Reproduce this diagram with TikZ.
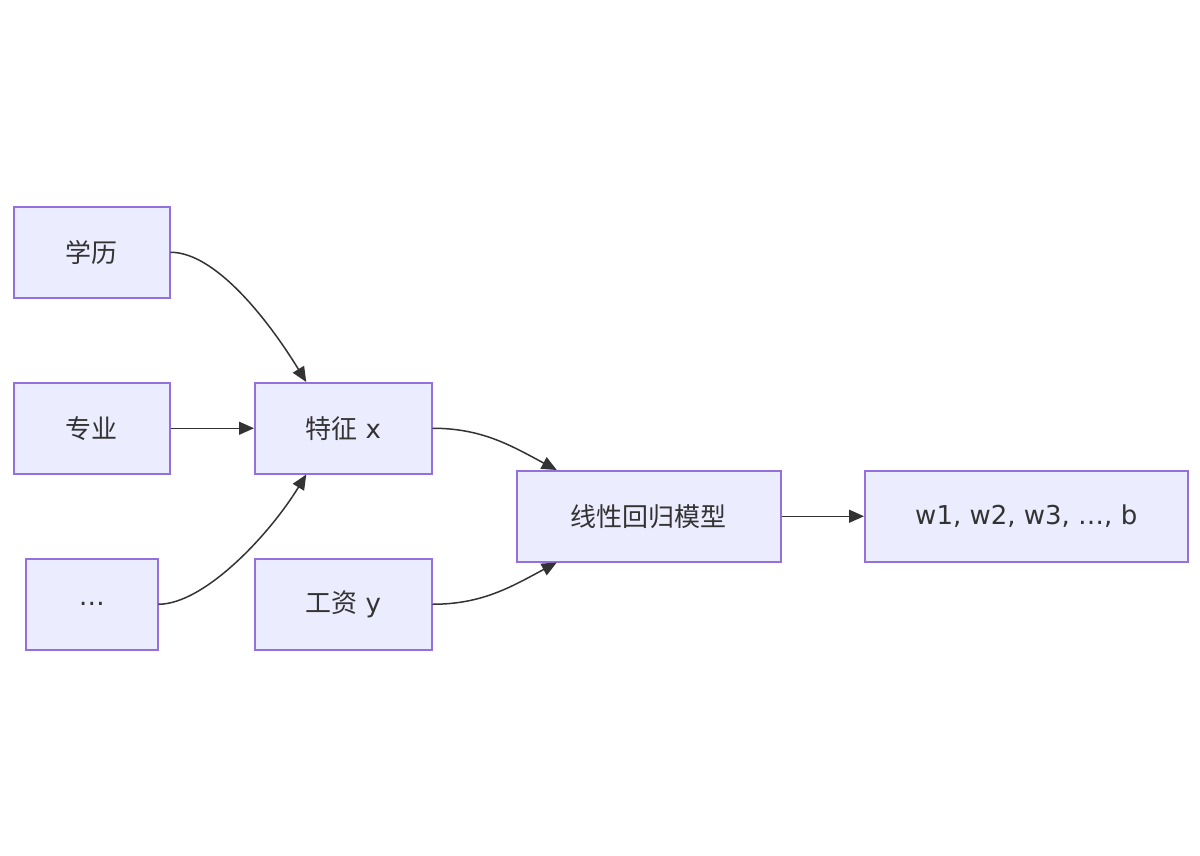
\documentclass[tikz,border=0pt]{standalone}
\usepackage{fontspec}
\setmainfont{DejaVu Sans}
\newfontfamily\cjkfam{Noto Sans CJK SC}
\newcommand{\cjk}{\cjkfam\fontsize{26}{30}\selectfont}
\usetikzlibrary{arrows.meta}
\definecolor{nodefill}{HTML}{ECECFF}
\definecolor{nodeline}{HTML}{9370DB}
\definecolor{ink}{HTML}{333333}
\tikzset{
  box/.style={draw=nodeline, fill=nodefill, line width=1.5pt, text=ink,
    font=\fontsize{26}{30}\selectfont, inner sep=0pt, anchor=north west},
  link/.style={draw=ink, line width=1.5pt, -{Triangle[length=15pt,width=13pt]}}
}
\begin{document}
\begin{tikzpicture}[x=1pt,y=-1pt]
\useasboundingbox (0,0) rectangle (1200,855);
\node[box, minimum width=156pt, minimum height=91pt] (xl) at (13,206) {\cjk 学历};
\node[box, minimum width=156pt, minimum height=91pt] (zy) at (13,382) {\cjk 专业};
\node[box, minimum width=132pt, minimum height=91pt] (dd) at (25,558) {…};
\node[box, minimum width=177pt, minimum height=91pt] (tz) at (254,382) {{\cjk 特征} x};
\node[box, minimum width=177pt, minimum height=91pt] (gz) at (254,558) {{\cjk 工资} y};
\node[box, minimum width=264pt, minimum height=91pt] (mx) at (516,470) {\cjk 线性回归模型};
\node[box, minimum width=323pt, minimum height=91pt] (out) at (864,470) {w1, w2, w3, …, b};
\draw[link] (xl.east) .. controls +(45,0) and +(-38,-62) .. ([xshift=-37pt]tz.north);
\draw[link] (zy.east) -- (tz.west);
\draw[link] (dd.east) .. controls +(45,0) and +(-38,62) .. ([xshift=-37pt]tz.south);
\draw[link] (tz.east) .. controls +(50,0) and +(-45,-24) .. ([xshift=-92pt]mx.north);
\draw[link] (gz.east) .. controls +(50,0) and +(-45,24) .. ([xshift=-92pt]mx.south);
\draw[link] (mx.east) -- (out.west);
\end{tikzpicture}
\end{document}
